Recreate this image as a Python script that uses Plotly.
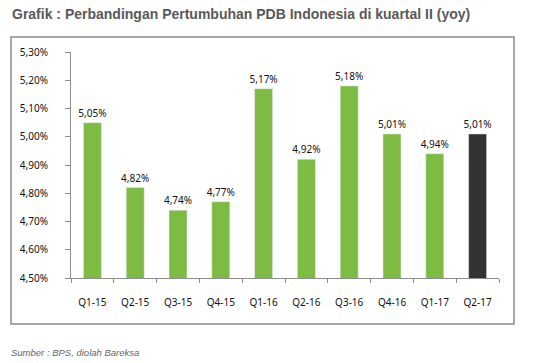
import plotly.graph_objects as go

categories = ["Q1-15", "Q2-15", "Q3-15", "Q4-15", "Q1-16", "Q2-16", "Q3-16", "Q4-16", "Q1-17", "Q2-17"]
values = [5.05, 4.82, 4.74, 4.77, 5.17, 4.92, 5.18, 5.01, 4.94, 5.01]
bar_colors = ["#7dbb42"] * 9 + ["#333333"]
labels = [f"{v:.2f}%".replace(".", ",") for v in values]
y_ticks = [4.5, 4.6, 4.7, 4.8, 4.9, 5.0, 5.1, 5.2, 5.3]
y_ticktext = [f"{v:.2f}%".replace(".", ",") for v in y_ticks]

W, H = 533, 363
L, R, T, B = 71, 34, 52, 85
pw, ph = W - L - R, H - T - B

def px(x):
    return (x - L) / pw

def py(y):
    return (H - B - y) / ph

font = "Noto Sans"
fig = go.Figure(go.Bar(
    x=categories, y=values, marker_color=bar_colors, width=0.42,
    text=labels, textposition="outside", cliponaxis=False, constraintext="none",
    textfont=dict(family=font, size=10, color="#111111"), hoverinfo="x+y",
))
fig.update_layout(
    width=W, height=H, margin=dict(l=L, r=R, t=T, b=B),
    paper_bgcolor="white", plot_bgcolor="white", showlegend=False,
    xaxis=dict(tickson="boundaries", ticks="outside", ticklen=4, tickcolor="#8c8c8c",
               showline=True, linecolor="#8c8c8c", linewidth=1, showgrid=False,
               tickfont=dict(family=font, size=10, color="#111111"), ticklabelstandoff=15),
    yaxis=dict(range=[4.5, 5.3], tickvals=y_ticks, ticktext=y_ticktext, ticks="outside",
               ticklen=5, tickcolor="#8c8c8c", showline=True, linecolor="#8c8c8c",
               linewidth=1, showgrid=False, zeroline=False, ticklabelstandoff=15,
               tickfont=dict(family=font, size=10, color="#111111")),
    shapes=[dict(type="rect", xref="paper", yref="paper",
                 x0=px(11), x1=px(514), y0=py(324), y1=py(37),
                 line=dict(color="#8c8c8c", width=1.5), layer="below")],
    annotations=[
        dict(text="<b>Grafik : Perbandingan Pertumbuhan PDB Indonesia di kuartal II (yoy)</b>",
             xref="paper", yref="paper", x=px(10), y=py(14), xanchor="left", yanchor="middle",
             showarrow=False, font=dict(family="Liberation Sans", size=14, color="#595959")),
        dict(text="<i>Sumber : BPS, diolah Bareksa</i>",
             xref="paper", yref="paper", x=px(9), y=py(352), xanchor="left", yanchor="middle",
             showarrow=False, font=dict(family="Liberation Sans", size=9.5, color="#666666")),
    ],
)
fig.write_html("out.html", config={"displayModeBar": False},
               post_script="document.body.style.margin='0';")
